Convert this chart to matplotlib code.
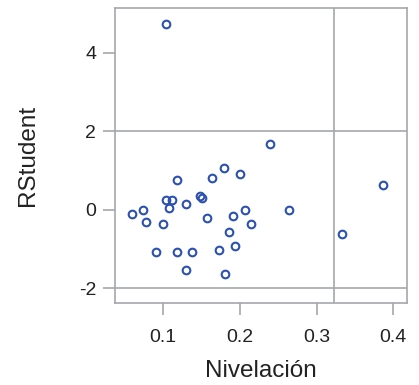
import matplotlib
matplotlib.use("Agg")
from matplotlib import pyplot as plt
import numpy as np

plt.rcParams['font.family'] = ['Liberation Sans', 'DejaVu Sans']

# leverage (Nivelación) and studentized residuals
nivelacion = [0.103, 0.239, 0.179, 0.163, 0.200, 0.118, 0.148, 0.150,
              0.104, 0.111, 0.108, 0.129, 0.074, 0.059, 0.077, 0.100,
              0.157, 0.191, 0.207, 0.215, 0.264, 0.186, 0.194, 0.173,
              0.090, 0.118, 0.137, 0.129, 0.181, 0.333, 0.387]
rstudent = [4.74, 1.68, 1.06, 0.82, 0.92, 0.76, 0.34, 0.30,
            0.255, 0.255, 0.04, 0.15, 0.0, -0.10, -0.30, -0.36,
            -0.20, -0.15, 0.0, -0.36, 0.0, -0.56, -0.92, -1.02,
            -1.07, -1.07, -1.07, -1.53, -1.64, -0.61, 0.62]

# reference lines
lev_cut = 0.3226
rs_cut = [2, -2]

xticks = [0.1, 0.2, 0.3, 0.4]
yticks = [-2, 0, 2, 4]

gray = '#a3a7ab'
blue = '#2b50b0'

fig = plt.figure(figsize=(4.19, 3.85), dpi=100)
ax = fig.add_axes([0.2745, 0.213, 0.697, 0.766])

for r in rs_cut:
    ax.axhline(r, color=gray, linewidth=1.2, zorder=1)
ax.axvline(lev_cut, color=gray, linewidth=1.2, zorder=1)

ax.plot(nivelacion, rstudent, linestyle='none', marker='o', markersize=5.5,
        markerfacecolor='none', markeredgecolor=blue, markeredgewidth=1.5,
        zorder=3)

ax.set_xlim(0.037, 0.418)
ax.set_ylim(-2.375, 5.14)
ax.set_xticks(xticks)
ax.set_xticklabels(['0.1', '0.2', '0.3', '0.4'])
ax.set_yticks(yticks)
ax.set_yticklabels(['-2', '0', '2', '4'])

for s in ax.spines.values():
    s.set_color(gray)
    s.set_linewidth(1.2)

ax.tick_params(axis='both', direction='out', length=8.5, width=1.2,
               color=gray, labelsize=14, labelcolor='#222222')
ax.tick_params(axis='x', pad=10)
ax.tick_params(axis='y', pad=5)
ax.set_xlabel('Nivelación', fontsize=17.5, color='#222222', labelpad=10)
ax.set_ylabel('RStudent', fontsize=17.5, color='#222222', labelpad=29)

fig.savefig('out.png', dpi=100)
